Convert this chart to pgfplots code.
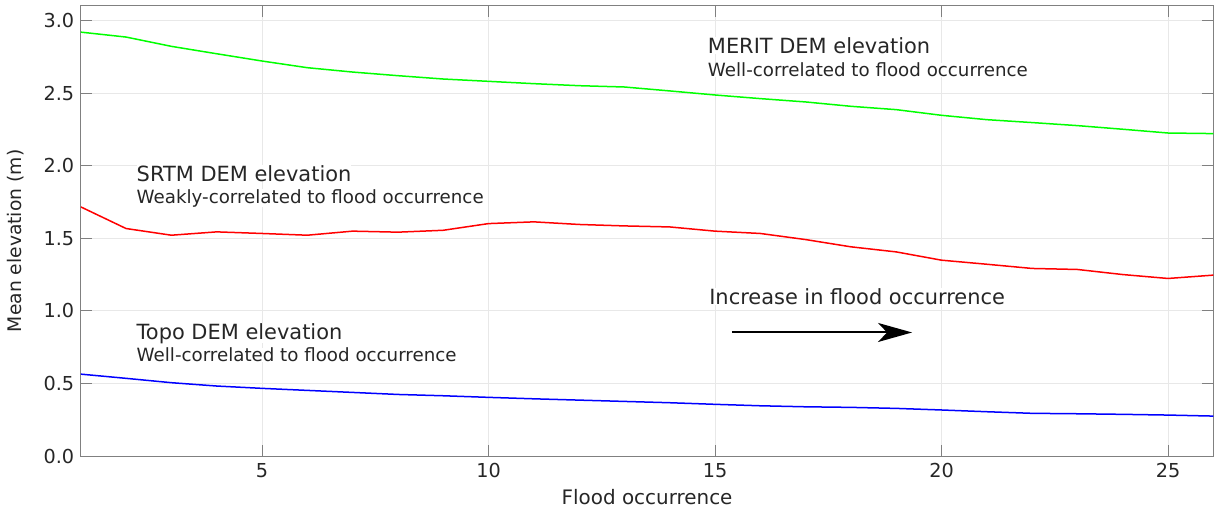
\documentclass[border=0pt]{standalone}
\usepackage{fontspec}
\setmainfont{DejaVu Sans}
\usepackage{pgfplots}
\pgfplotsset{compat=1.18}
\usetikzlibrary{arrows.meta}
\definecolor{axgray}{RGB}{128,128,128}
\definecolor{gridgray}{RGB}{232,232,232}
\definecolor{txt}{RGB}{38,38,38}
\begin{document}
\begin{tikzpicture}
\begin{axis}[
  scale only axis, width=1132.5bp, height=450bp,
  xmin=1, xmax=26, ymin=0, ymax=3.1,
  xtick={5,10,15,20,25},
  ytick={0,0.5,1.0,1.5,2.0,2.5,3.0},
  yticklabels={0.0,0.5,1.0,1.5,2.0,2.5,3.0},
  tick align=inside, major tick length=11bp,
  tick style={axgray, line width=0.8bp},
  axis line style={axgray, line width=1bp},
  grid=major, major grid style={gridgray, line width=0.8bp},
  /pgf/number format/assume math mode=true,
  ticklabel style={font=\fontsize{19.3}{22}\selectfont, text=txt},
  xticklabel style={anchor=base, yshift=-21.5bp},
  yticklabel style={anchor=east, inner sep=0pt, xshift=-6.5bp},
  xlabel={Flood occurrence}, ylabel={Mean elevation (m)},
  xlabel style={font=\fontsize{20}{23}\selectfont, text=txt, at={(axis description cs:0.5,-0.1067)}, anchor=base},
  ylabel style={font=\fontsize{18.8}{22}\selectfont, text=txt, at={(axis description cs:-0.0574,0.478)}, anchor=center},
]
\addplot[color=green, line width=1.5bp] coordinates {
(1,2.920) (2,2.886) (3,2.822) (4,2.771) (5,2.721) (6,2.675) (7,2.645) (8,2.620) (9,2.597)
(10,2.581) (11,2.565) (12,2.551) (13,2.542) (14,2.515) (15,2.487) (16,2.462) (17,2.439)
(18,2.409) (19,2.386) (20,2.347) (21,2.317) (22,2.297) (23,2.276) (24,2.251) (25,2.225) (26,2.221)};
\addplot[color=red, line width=1.5bp] coordinates {
(1,1.716) (2,1.567) (3,1.521) (4,1.544) (5,1.533) (6,1.521) (7,1.549) (8,1.542) (9,1.555)
(10,1.601) (11,1.613) (12,1.595) (13,1.585) (14,1.578) (15,1.549) (16,1.533) (17,1.491)
(18,1.441) (19,1.406) (20,1.349) (21,1.321) (22,1.292) (23,1.285) (24,1.250) (25,1.223) (26,1.246)};
\addplot[color=blue, line width=1.5bp] coordinates {
(1,0.564) (2,0.535) (3,0.505) (4,0.482) (5,0.466) (6,0.452) (7,0.438) (8,0.424) (9,0.415)
(10,0.404) (11,0.394) (12,0.385) (13,0.376) (14,0.367) (15,0.356) (16,0.346) (17,0.339)
(18,0.335) (19,0.328) (20,0.317) (21,0.305) (22,0.294) (23,0.291) (24,0.287) (25,0.282) (26,0.275)};
\tikzset{ttl/.style={anchor=base west, inner sep=0pt, fill=white, text=txt, font=\fontsize{21}{24}\selectfont},
         sub/.style={anchor=base west, inner sep=0pt, fill=white, text=txt, font=\fontsize{18.3}{21}\selectfont}}
\node[ttl] at (axis cs:14.84,2.774) {MERIT DEM elevation};
\node[sub] at (axis cs:14.84,2.613) {Well-correlated to flood occurrence};
\node[ttl] at (axis cs:2.23,1.894) {SRTM DEM elevation};
\node[sub] at (axis cs:2.23,1.741) {Weakly-correlated to flood occurrence};
\node[ttl] at (axis cs:2.23,0.806) {Topo DEM elevation};
\node[sub] at (axis cs:2.23,0.650) {Well-correlated to flood occurrence};
\node[ttl] at (axis cs:14.87,1.045) {Increase in flood occurrence};
\draw[-{Stealth[length=34bp,width=19bp,inset=9bp]}, line width=2bp, black]
  (axis cs:15.37,0.851) -- (axis cs:19.35,0.851);
\coordinate (bl) at (rel axis cs:0,0);
\coordinate (tr) at (rel axis cs:1,1);
\end{axis}
\pgfresetboundingbox
\path[use as bounding box] ([xshift=-80.8bp,yshift=-57bp]bl) rectangle ([xshift=0.7bp,yshift=6bp]tr);
\end{tikzpicture}
\end{document}
